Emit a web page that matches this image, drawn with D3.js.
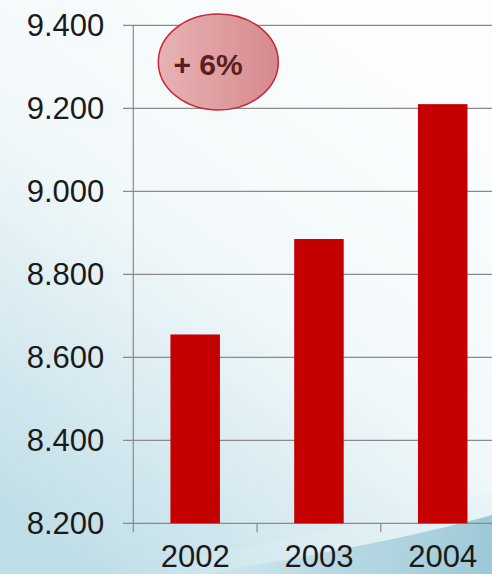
<!DOCTYPE html>
<html>
<head>
<meta charset="utf-8">
<script src="https://cdn.jsdelivr.net/npm/d3@7"></script>
<style>
  body { margin: 0; background: #fff; }
  #chart svg { display: block; }
</style>
</head>
<body>
<div id="chart"></div>
<script>
// data (values in thousands, european notation)
const years = ["2002", "2003", "2004"];
const values = [8655, 8885, 9210];
const yTicks = [8200, 8400, 8600, 8800, 9000, 9200, 9400];
const badgeText = "+ 6%";

const W = 492, H = 574;

const svg = d3.select("#chart")
  .append("svg")
  .attr("width", W)
  .attr("height", H)
  .style("font-family", "'Liberation Sans', Arial, sans-serif");

const defs = svg.append("defs");

// background: white top right, light blue towards bottom left
const bg = defs.append("linearGradient")
  .attr("id", "bg").attr("x1", 0.75).attr("y1", 0.1).attr("x2", 0.2).attr("y2", 1);
bg.append("stop").attr("offset", "0%").attr("stop-color", "#fbfdfe");
bg.append("stop").attr("offset", "45%").attr("stop-color", "#f1f8fa");
bg.append("stop").attr("offset", "100%").attr("stop-color", "#c0dee8");

const sw = defs.append("linearGradient")
  .attr("id", "swoosh").attr("x1", 0).attr("y1", 0).attr("x2", 1).attr("y2", 0);
sw.append("stop").attr("offset", "0%").attr("stop-color", "#b4d8e3").attr("stop-opacity", 0);
sw.append("stop").attr("offset", "45%").attr("stop-color", "#a3cddb").attr("stop-opacity", 0.6);
sw.append("stop").attr("offset", "100%").attr("stop-color", "#8fc2d2").attr("stop-opacity", 0.85);

const band = defs.append("linearGradient")
  .attr("id", "band").attr("x1", 0).attr("y1", 0).attr("x2", 1).attr("y2", 0);
band.append("stop").attr("offset", "0%").attr("stop-color", "#e4f2f6").attr("stop-opacity", 0);
band.append("stop").attr("offset", "100%").attr("stop-color", "#e4f2f6").attr("stop-opacity", 0.6);

const badge = defs.append("linearGradient")
  .attr("id", "badge").attr("x1", 0).attr("y1", 0).attr("x2", 1).attr("y2", 0);
badge.append("stop").attr("offset", "0%").attr("stop-color", "#e7b3b4");
badge.append("stop").attr("offset", "100%").attr("stop-color", "#d7898d");

svg.append("rect").attr("width", W).attr("height", H).attr("fill", "url(#bg)");
// light band above the swoosh
svg.append("path")
  .attr("d", "M120,574 C260,545 380,520 492,492 L492,518 C400,540 300,560 210,574 Z")
  .attr("fill", "url(#band)");
svg.append("path")
  .attr("d", "M200,574 C320,555 420,535 492,515 L492,574 Z")
  .attr("fill", "url(#swoosh)");

// scales
const y = d3.scaleLinear()
  .domain([8200, 9400])
  .range([523.3, 25.3]);

const x = d3.scaleBand()
  .domain(years)
  .range([133.3, 504.6])
  .paddingInner(0.6)
  .paddingOuter(0.3);

const loc = d3.formatLocale({decimal: ",", thousands: ".", grouping: [3], currency: ["", ""]});
const fmt = loc.format(",d");

// gridlines
svg.append("g")
  .selectAll("line")
  .data(yTicks)
  .enter().append("line")
  .attr("x1", 123).attr("x2", W)
  .attr("y1", d => y(d)).attr("y2", d => y(d))
  .attr("stroke", "#8a8a8a").attr("stroke-width", 1.2);

// bars
svg.selectAll(".bar")
  .data(values)
  .enter().append("rect")
  .attr("class", "bar")
  .attr("x", (d, i) => x(years[i]))
  .attr("width", x.bandwidth())
  .attr("y", d => y(d))
  .attr("height", d => y(8200) - y(d))
  .attr("fill", "#c40000");

// y axis
const yAxis = svg.append("g")
  .attr("transform", "translate(133.3,0)")
  .call(d3.axisLeft(y).tickValues(yTicks).tickFormat(fmt).tickSize(0).tickPadding(29));
yAxis.select(".domain").remove();
yAxis.selectAll("text")
  .attr("font-size", 31)
  .attr("fill", "#1a1a1a")
  .attr("font-family", "'Liberation Sans', Arial, sans-serif");

// vertical axis line and category separators
svg.append("line")
  .attr("x1", 133.3).attr("x2", 133.3)
  .attr("y1", y(9400)).attr("y2", y(8200) + 9)
  .attr("stroke", "#8a8a8a").attr("stroke-width", 1.2);
svg.append("g")
  .selectAll("line")
  .data(years.slice(1))
  .enter().append("line")
  .attr("x1", d => x(d) - x.step() * x.paddingInner() / 2)
  .attr("x2", d => x(d) - x.step() * x.paddingInner() / 2)
  .attr("y1", y(8200)).attr("y2", y(8200) + 9)
  .attr("stroke", "#8a8a8a").attr("stroke-width", 1.2);

// x axis labels
const xAxis = svg.append("g")
  .attr("transform", `translate(0,${y(8200)})`)
  .call(d3.axisBottom(x).tickSize(0).tickPadding(22));
xAxis.select(".domain").remove();
xAxis.selectAll("text")
  .attr("font-size", 31)
  .attr("fill", "#1a1a1a")
  .attr("font-family", "'Liberation Sans', Arial, sans-serif");

// +6% badge
svg.append("ellipse")
  .attr("cx", 218.3).attr("cy", 62)
  .attr("rx", 60).attr("ry", 48)
  .attr("fill", "url(#badge)")
  .attr("stroke", "#c4283a").attr("stroke-width", 1.5);
svg.append("text")
  .attr("x", 208).attr("y", 75)
  .attr("text-anchor", "middle")
  .attr("font-size", 30)
  .attr("font-weight", "bold")
  .attr("fill", "#5a1e20")
  .text(badgeText);
</script>
</body>
</html>
